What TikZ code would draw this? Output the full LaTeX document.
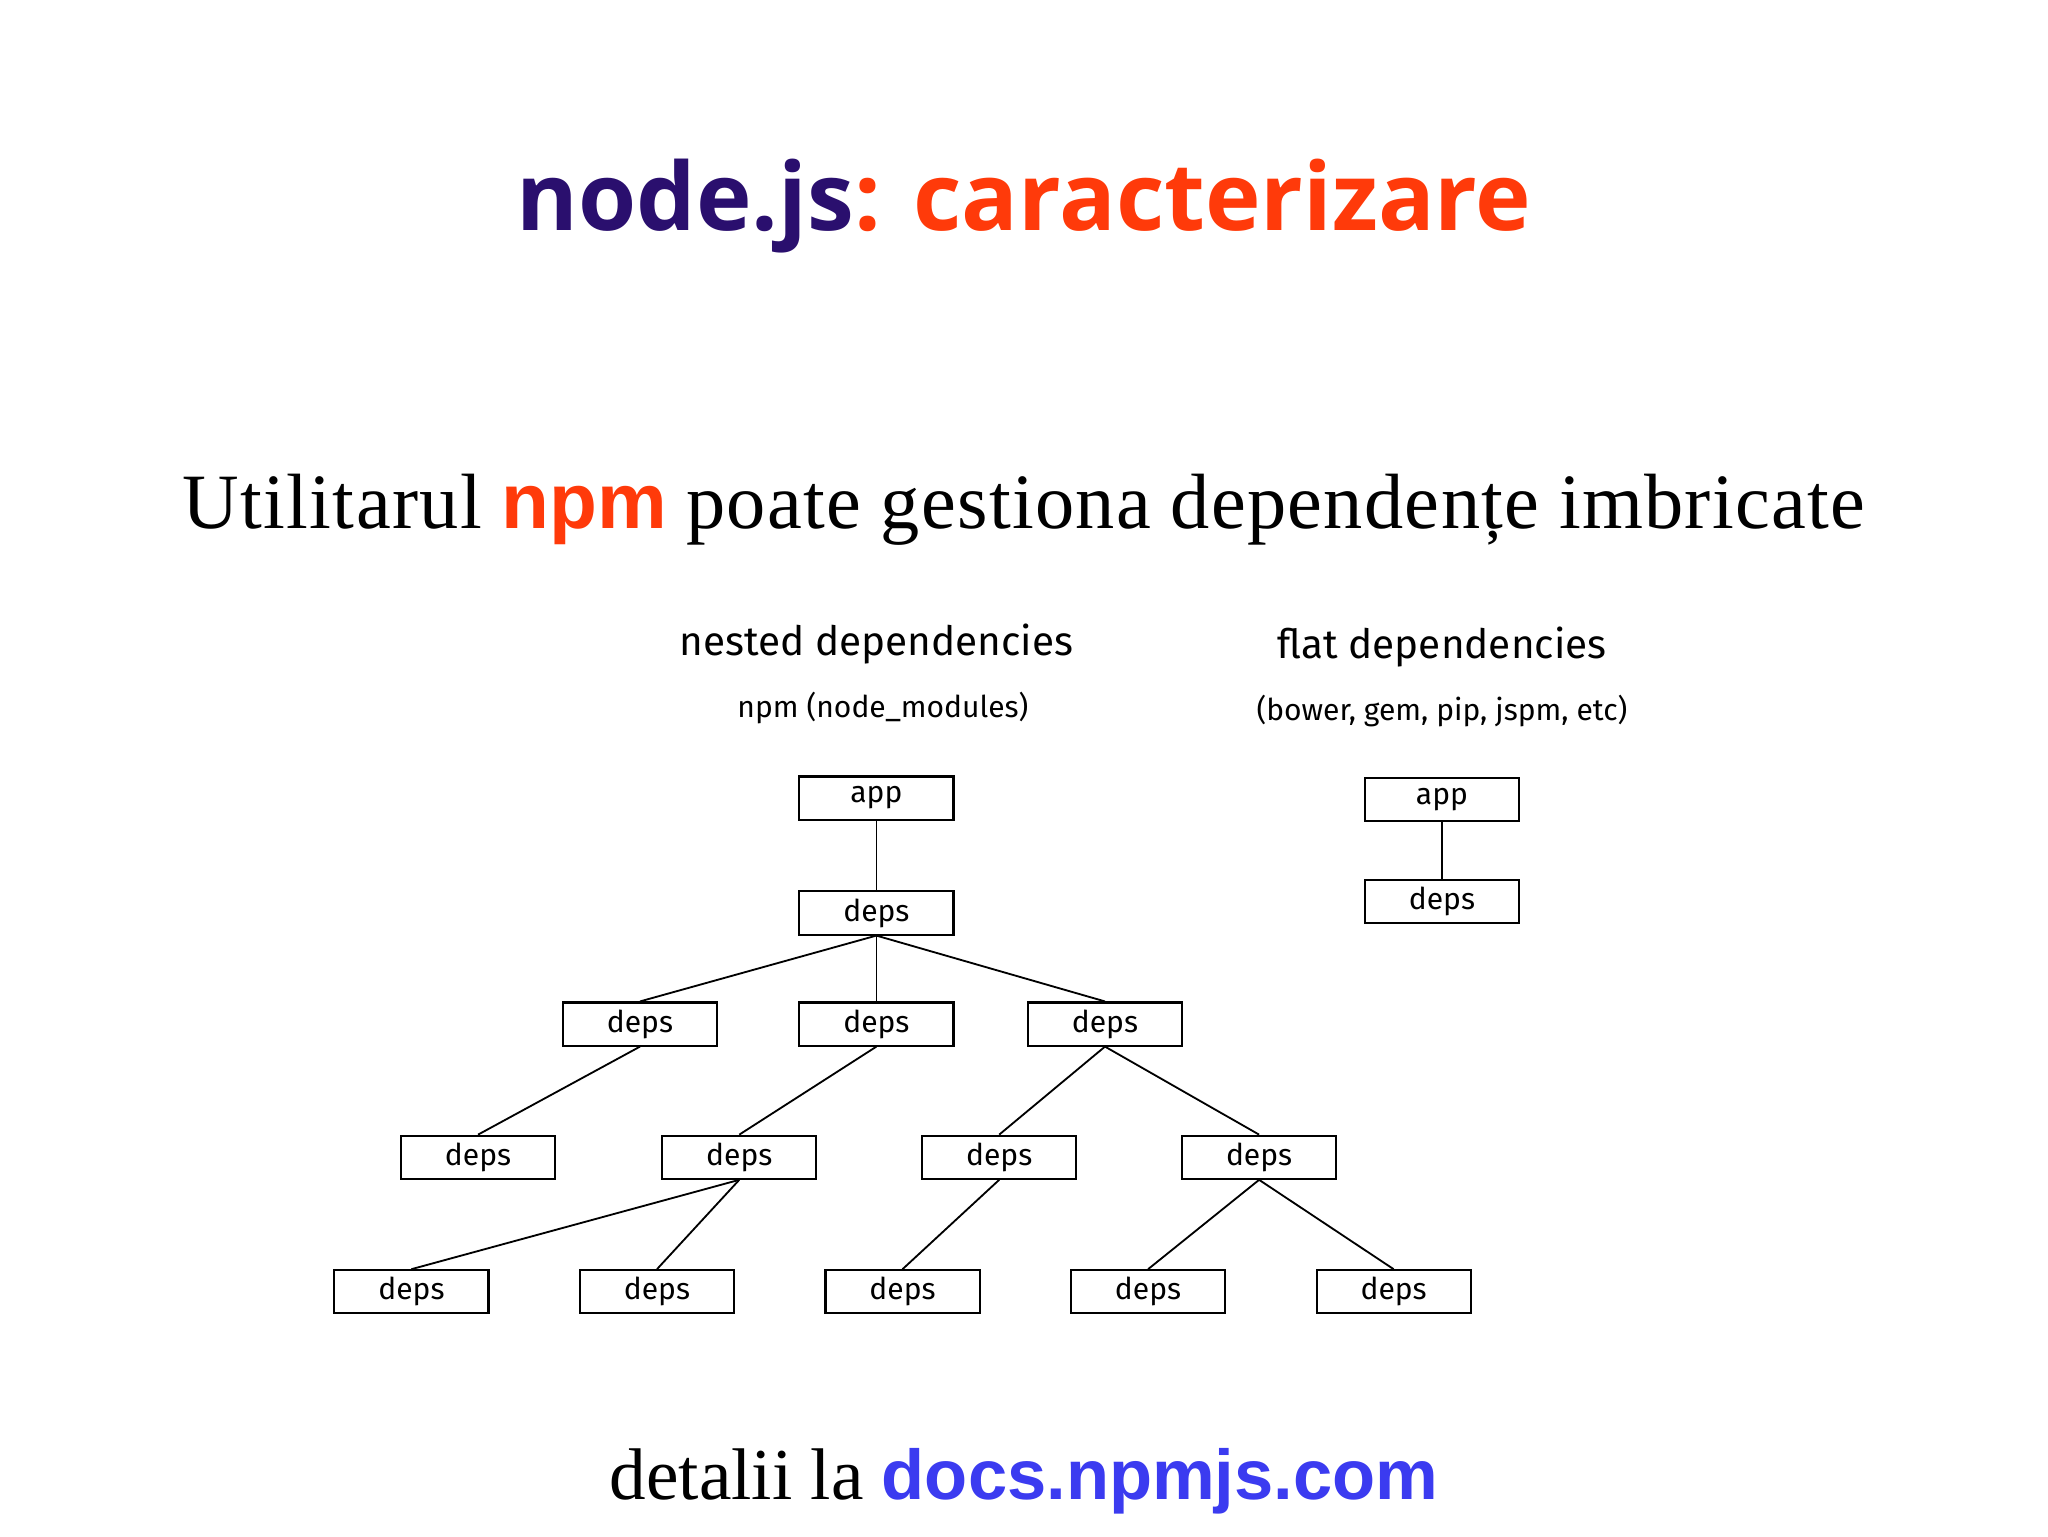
\documentclass[tikz,border=0pt]{standalone}
\usepackage{fontspec}
\setmainfont{Liberation Serif}
\newfontfamily\titlef{Open Sans}
\newfontfamily\fira{Fira Sans}
\newfontfamily\arialf{Liberation Sans}
\definecolor{navy}{HTML}{2A0F6E}
\definecolor{orng}{HTML}{FF3A0A}
\definecolor{linkb}{HTML}{3B3BF0}
\tikzset{box/.style={draw,line width=1.6pt,minimum width=118pt,minimum height=33pt,inner sep=0pt,font=\fira\fontsize{23}{23}\selectfont},
edge/.style={line width=1.4pt}}
\begin{document}
\begin{tikzpicture}[x=1pt,y=-1pt]
\useasboundingbox (0,0) rectangle (1568,1176);
\node (title) at (784,158) {\titlef\bfseries\fontsize{72}{72}\selectfont\textcolor{navy}{node.js}\textcolor{orng}{: caracterizare}};
\node (sub) at (784,390) {\fontsize{60}{60}\selectfont U\kern1pt t\kern1pt i\kern1pt l\kern1pt i\kern1pt t\kern1pt a\kern1pt r\kern1pt u\kern1pt l {\arialf\bfseries\textcolor{orng}{npm}} p\kern1pt o\kern1pt a\kern1pt t\kern1pt e g\kern1pt e\kern1pt s\kern1pt t\kern1pt i\kern1pt o\kern1pt n\kern1pt a d\kern1pt e\kern1pt p\kern1pt e\kern1pt n\kern1pt d\kern1pt e\kern1pt n\kern1pt ț\kern1pt e i\kern1pt m\kern1pt b\kern1pt r\kern1pt i\kern1pt c\kern1pt a\kern1pt t\kern1pt e};
\node (nh) at (671,493) {\fira\fontsize{31}{31}\selectfont nested dependencies};
\node (nh2) at (676,542) {\fira\fontsize{23}{23}\selectfont npm (node\_modules)};
\node (fh) at (1104,495) {\fira\fontsize{31}{31}\selectfont flat dependencies};
\node (fh2) at (1104,544) {\fira\fontsize{23}{23}\selectfont (bower, gem, pip, jspm, etc)};
\node[box] (app) at (671,611) {app};
\node[box] (d1) at (671,699) {deps};
\node[box] (a) at (490,784) {deps};
\node[box] (b) at (671,784) {deps};
\node[box] (c) at (846,784) {deps};
\node[box] (aa) at (366,886) {deps};
\node[box] (ba) at (566,886) {deps};
\node[box] (ca) at (765,886) {deps};
\node[box] (cb) at (964,886) {deps};
\node[box] (baa) at (315,989) {deps};
\node[box] (bab) at (503,989) {deps};
\node[box] (caa) at (691,989) {deps};
\node[box] (cba) at (879,989) {deps};
\node[box] (cbb) at (1067,989) {deps};
\node[box] (fapp) at (1104,612) {app};
\node[box] (fd) at (1104,690) {deps};
\draw[edge] (app) -- (d1);
\draw[edge] (fapp) -- (fd);
\draw[edge] (d1.south) -- (a.north);
\draw[edge] (d1.south) -- (b.north);
\draw[edge] (d1.south) -- (c.north);
\draw[edge] (a.south) -- (aa.north);
\draw[edge] (b.south) -- (ba.north);
\draw[edge] (c.south) -- (ca.north);
\draw[edge] (c.south) -- (cb.north);
\draw[edge] (ba.south) -- (baa.north);
\draw[edge] (ba.south) -- (bab.north);
\draw[edge] (ca.south) -- (caa.north);
\draw[edge] (cb.south) -- (cba.north);
\draw[edge] (cb.south) -- (cbb.north);
\node (foot) at (784,1134) {\fontsize{56}{56}\selectfont detalii la {\arialf\bfseries\fontsize{54}{54}\selectfont\textcolor{linkb}{docs.npmjs.com}}};
\end{tikzpicture}
\end{document}
